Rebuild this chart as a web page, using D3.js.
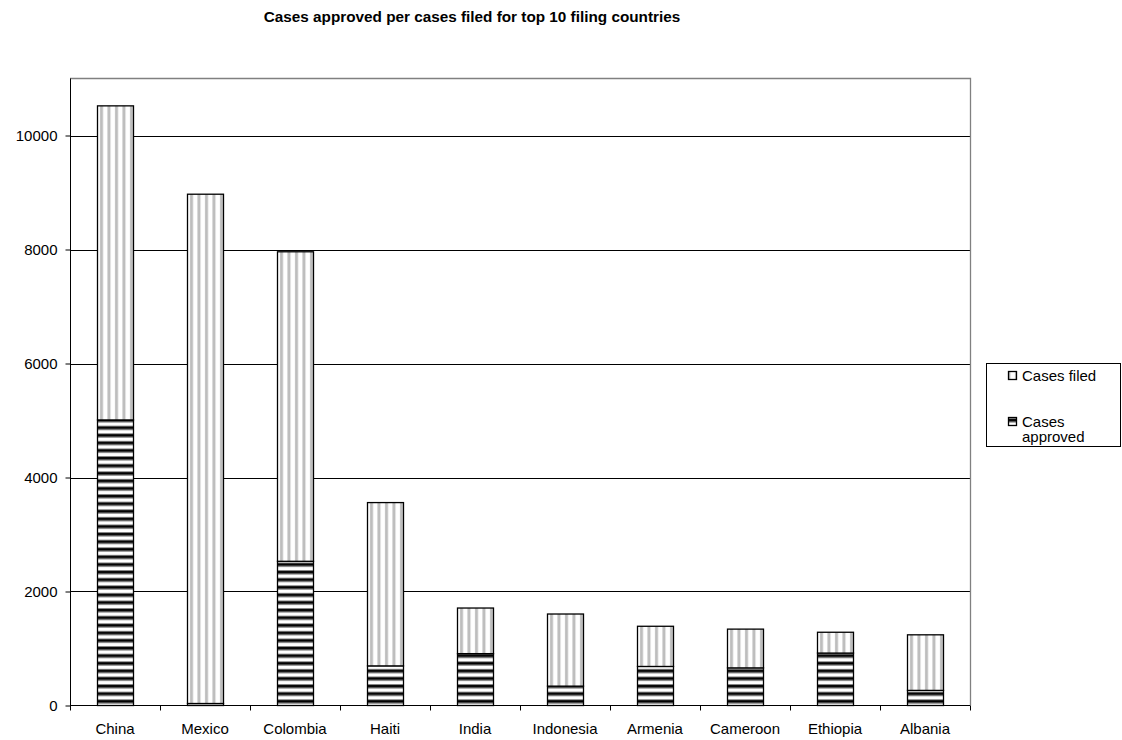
<!DOCTYPE html>
<html><head><meta charset="utf-8">
<script src="https://cdn.jsdelivr.net/npm/d3@7"></script>
<style>body{margin:0;background:#fff;} svg{display:block;font-family:"Liberation Sans",Arial,sans-serif;}</style>
</head><body>
<svg id="chart" width="1122" height="740"></svg>
<script>
const categories = ["China","Mexico","Colombia","Haiti","India","Indonesia","Armenia","Cameroon","Ethiopia","Albania"];
const casesApproved = [5010, 35, 2530, 695, 910, 340, 685, 660, 920, 265];
const casesFiled = [5510, 8935, 5430, 2865, 800, 1265, 705, 680, 365, 975];
const yTicks = [0, 2000, 4000, 6000, 8000, 10000];
const seriesNames = ["Cases approved", "Cases filed"];
const title = "Cases approved per cases filed for top 10 filing countries";

const svg = d3.select("#chart");
const m = {left:70, right:970, top:78.5, bottom:705.5};
const FS = 15;

const defs = svg.append("defs");
// horizontal stripes pattern (approved)
const ph = defs.append("pattern").attr("id","hstripe").attr("patternUnits","userSpaceOnUse")
  .attr("width",8).attr("height",7.6);
ph.append("rect").attr("width",8).attr("height",7.6).attr("fill","#fff");
ph.append("rect").attr("y",0).attr("width",8).attr("height",1).attr("fill","#888");
ph.append("rect").attr("y",1).attr("width",8).attr("height",2.6).attr("fill","#000");
ph.append("rect").attr("y",3.6).attr("width",8).attr("height",1).attr("fill","#888");
// vertical stripes pattern (filed)
const pv = defs.append("pattern").attr("id","vstripe").attr("patternUnits","userSpaceOnUse")
  .attr("width",7.5).attr("height",8).attr("x",98);
pv.append("rect").attr("width",7.5).attr("height",8).attr("fill","#fff");
pv.append("rect").attr("x",2).attr("width",3).attr("height",8).attr("fill","#bdbdbd");

const x = d3.scaleBand().domain(categories).range([m.left, m.right]).paddingInner(0.6).paddingOuter(0.3);
const y = d3.scaleLinear().domain([0, 11000]).range([m.bottom, m.top]);

// gridlines
svg.append("g").selectAll("line").data(yTicks.filter(d=>d>0)).join("line")
  .attr("x1",m.left).attr("x2",m.right)
  .attr("y1",d=>Math.round(y(d))+0.5).attr("y2",d=>Math.round(y(d))+0.5)
  .attr("stroke","#000").attr("stroke-width",1);

// plot border top/right (gray)
svg.append("path").attr("d",`M${m.left},${m.top}H${m.right+0.5}V${m.bottom}`)
  .attr("fill","none").attr("stroke","#808080").attr("stroke-width",1.3);

// stacked data
const data = categories.map((c,i)=>({cat:c, approved:casesApproved[i], filed:casesFiled[i]}));
const stack = d3.stack().keys(["approved","filed"])(data);
const fills = {approved:"url(#hstripe)", filed:"url(#vstripe)"};

svg.append("g").selectAll("g").data(stack).join("g")
  .attr("fill",d=>fills[d.key])
  .selectAll("rect").data(d=>d).join("rect")
  .attr("x",d=>Math.round(x(d.data.cat))+0.5)
  .attr("width",Math.round(x.bandwidth()))
  .attr("y",d=>y(d[1]))
  .attr("height",d=>y(d[0])-y(d[1]))
  .attr("stroke","#000").attr("stroke-width",1.3);

// y axis
const yAxis = svg.append("g").attr("transform",`translate(${m.left+0.5},0)`)
  .call(d3.axisLeft(y).tickValues(yTicks).tickSize(5).tickPadding(8).tickFormat(d3.format("d")));
yAxis.select(".domain").attr("d",`M0,${m.top}V${m.bottom}`).attr("stroke","#000");
yAxis.selectAll("text").attr("font-size",FS).attr("fill","#000").attr("font-family","Liberation Sans, Arial, sans-serif");

// x axis
const xAxisG = svg.append("g").attr("transform",`translate(0,${m.bottom})`);
xAxisG.append("line").attr("x1",m.left).attr("x2",m.right).attr("stroke","#000");
const boundaries = d3.range(categories.length+1).map(i=>m.left + i*(m.right-m.left)/categories.length);
xAxisG.selectAll(".tk").data(boundaries).join("line").attr("class","tk")
  .attr("x1",d=>d+0.5).attr("x2",d=>d+0.5).attr("y1",0).attr("y2",5).attr("stroke","#000");
xAxisG.selectAll("text").data(categories).join("text")
  .attr("x",d=>x(d)+x.bandwidth()/2).attr("y",28.5)
  .attr("text-anchor","middle").attr("font-size",FS).text(d=>d);

// title
svg.append("text").attr("x",472).attr("y",22).attr("text-anchor","middle")
  .attr("font-size",15.3).attr("font-weight","bold").text(title);

// legend
const lg = svg.append("g");
lg.append("rect").attr("x",986.5).attr("y",363.5).attr("width",134).attr("height",83)
  .attr("fill","#fff").attr("stroke","#000");
const sym = [
  {name:seriesNames[1], fill:"url(#vstripe)", y:371, lines:["Cases filed"]},
  {name:seriesNames[0], fill:"url(#hstripe)", y:417, lines:["Cases","approved"]}
];
sym.forEach(s=>{
  lg.append("rect").attr("x",1008.5).attr("y",s.y+0.5).attr("width",8).attr("height",8)
    .attr("fill",s.fill).attr("stroke","#000").attr("stroke-width",1.3);
  s.lines.forEach((t,i)=>{
    lg.append("text").attr("x",1022).attr("y",s.y+9.5+i*15).attr("font-size",FS).text(t);
  });
});
</script>
</body></html>
